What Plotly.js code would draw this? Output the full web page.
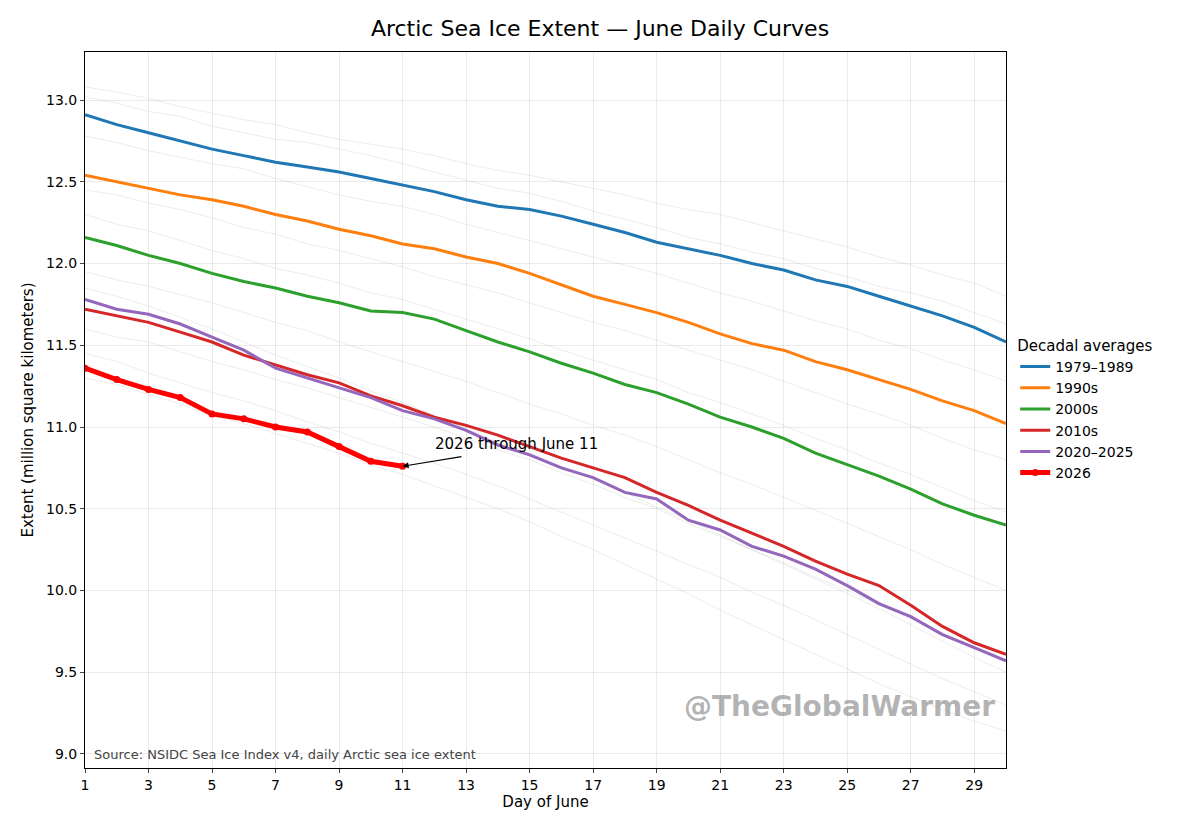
<!DOCTYPE html>
<html><head><meta charset="utf-8">
<script src="https://cdn.plot.ly/plotly-3.0.1.min.js"></script>
<style>body{margin:0;background:#fff}</style>
</head><body>
<div id="chart" style="width:1200px;height:831px"></div>
<script>
'use strict';

const days = Array.from({ length: 30 }, (_, i) => i + 1);

const avg7989 = [12.91, 12.85, 12.80, 12.75, 12.70, 12.66, 12.62, 12.59, 12.56, 12.52, 12.48, 12.44, 12.39, 12.35, 12.33, 12.29, 12.24, 12.19, 12.13, 12.09, 12.05, 12.00, 11.96, 11.90, 11.86, 11.80, 11.74, 11.68, 11.61, 11.52];
const avg1990s = [12.54, 12.50, 12.46, 12.42, 12.39, 12.35, 12.30, 12.26, 12.21, 12.17, 12.12, 12.09, 12.04, 12.00, 11.94, 11.87, 11.80, 11.75, 11.70, 11.64, 11.57, 11.51, 11.47, 11.40, 11.35, 11.29, 11.23, 11.16, 11.10, 11.02];
const avg2000s = [12.16, 12.11, 12.05, 12.00, 11.94, 11.89, 11.85, 11.80, 11.76, 11.71, 11.70, 11.66, 11.59, 11.52, 11.46, 11.39, 11.33, 11.26, 11.21, 11.14, 11.06, 11.00, 10.93, 10.84, 10.77, 10.70, 10.62, 10.53, 10.46, 10.40];
const avg2010s = [11.72, 11.68, 11.64, 11.58, 11.52, 11.44, 11.38, 11.32, 11.27, 11.19, 11.13, 11.06, 11.01, 10.95, 10.88, 10.81, 10.75, 10.69, 10.60, 10.52, 10.43, 10.35, 10.27, 10.18, 10.10, 10.03, 9.91, 9.78, 9.68, 9.61];
const avg2020s = [11.78, 11.72, 11.69, 11.63, 11.55, 11.47, 11.36, 11.30, 11.24, 11.18, 11.10, 11.05, 10.98, 10.89, 10.83, 10.75, 10.69, 10.60, 10.56, 10.43, 10.37, 10.27, 10.21, 10.13, 10.03, 9.92, 9.84, 9.73, 9.65, 9.57];
const y2026 = [11.36, 11.29, 11.23, 11.18, 11.08, 11.05, 11.00, 10.97, 10.88, 10.79, 10.76];

// a sample of individual years drawn faintly behind the averages (approximate)
const yearLines = [
  [13.08, 13.05, 13.01, 12.96, 12.92, 12.88, 12.85, 12.80, 12.76, 12.73, 12.70, 12.66, 12.61, 12.57, 12.54, 12.50, 12.46, 12.42, 12.37, 12.33, 12.30, 12.25, 12.20, 12.15, 12.10, 12.04, 11.99, 11.93, 11.88, 11.80],
  [13.02, 12.98, 12.93, 12.90, 12.84, 12.80, 12.76, 12.74, 12.70, 12.66, 12.61, 12.56, 12.51, 12.46, 12.43, 12.38, 12.32, 12.27, 12.22, 12.16, 12.12, 12.07, 12.03, 11.97, 11.92, 11.86, 11.82, 11.77, 11.70, 11.63],
  [12.78, 12.74, 12.69, 12.65, 12.61, 12.58, 12.52, 12.47, 12.42, 12.38, 12.35, 12.30, 12.24, 12.19, 12.14, 12.09, 12.04, 11.99, 11.94, 11.88, 11.82, 11.77, 11.71, 11.65, 11.60, 11.53, 11.48, 11.41, 11.35, 11.28],
  [12.45, 12.42, 12.37, 12.33, 12.28, 12.22, 12.18, 12.12, 12.08, 12.03, 11.98, 11.92, 11.87, 11.82, 11.76, 11.70, 11.64, 11.59, 11.53, 11.47, 11.41, 11.35, 11.28, 11.21, 11.14, 11.08, 11.01, 10.93, 10.86, 10.80],
  [12.30, 12.24, 12.20, 12.14, 12.08, 12.03, 11.97, 11.93, 11.88, 11.82, 11.78, 11.72, 11.66, 11.60, 11.54, 11.47, 11.41, 11.35, 11.29, 11.21, 11.15, 11.08, 11.01, 10.93, 10.86, 10.78, 10.71, 10.63, 10.55, 10.48],
  [11.95, 11.90, 11.86, 11.81, 11.76, 11.70, 11.64, 11.59, 11.52, 11.46, 11.40, 11.34, 11.28, 11.21, 11.14, 11.08, 11.01, 10.95, 10.88, 10.80, 10.72, 10.65, 10.57, 10.49, 10.41, 10.33, 10.25, 10.16, 10.08, 10.00],
  [11.60, 11.55, 11.52, 11.46, 11.40, 11.35, 11.29, 11.24, 11.18, 11.12, 11.06, 11.00, 10.93, 10.86, 10.80, 10.72, 10.65, 10.57, 10.50, 10.41, 10.33, 10.25, 10.17, 10.08, 10.00, 9.91, 9.83, 9.74, 9.66, 9.58],
  [11.45, 11.40, 11.33, 11.27, 11.21, 11.16, 11.10, 11.03, 10.97, 10.90, 10.84, 10.78, 10.71, 10.64, 10.56, 10.48, 10.40, 10.32, 10.24, 10.16, 10.08, 9.99, 9.91, 9.82, 9.73, 9.64, 9.55, 9.46, 9.38, 9.30],
  [11.85, 11.80, 11.74, 11.67, 11.60, 11.52, 11.44, 11.37, 11.30, 11.22, 11.15, 11.07, 10.99, 10.91, 10.84, 10.76, 10.68, 10.60, 10.51, 10.43, 10.34, 10.25, 10.16, 10.07, 9.98, 9.89, 9.79, 9.69, 9.59, 9.50],
  [11.30, 11.26, 11.20, 11.14, 11.07, 11.02, 10.96, 10.90, 10.84, 10.77, 10.71, 10.64, 10.57, 10.50, 10.42, 10.33, 10.25, 10.16, 10.07, 9.98, 9.88, 9.79, 9.70, 9.61, 9.52, 9.43, 9.35, 9.27, 9.20, 9.14]
];

const averages = [
  { name: '1979–1989', y: avg7989, color: '#1f77b4' },
  { name: '1990s', y: avg1990s, color: '#ff7f0e' },
  { name: '2000s', y: avg2000s, color: '#2ca02c' },
  { name: '2010s', y: avg2010s, color: '#d62728' },
  { name: '2020–2025', y: avg2020s, color: '#9467bd' }
];

let traces = yearLines.map(y => ({
  x: days, y: y, mode: 'lines', showlegend: false, hoverinfo: 'skip',
  line: { color: 'rgba(160,160,160,0.25)', width: 0.8 }
}));
averages.forEach(a => traces.push({
  x: days, y: a.y, mode: 'lines', name: a.name, line: { color: a.color, width: 3 }
}));
traces.push({
  x: days.slice(0, y2026.length), y: y2026, mode: 'lines+markers', name: '2026',
  line: { color: '#ff0000', width: 5 }, marker: { color: '#ff0000', size: 7 }
});

const font = { family: 'DejaVu Sans', color: '#000' };
const layout = {
  width: 1200, height: 831,
  margin: { l: 85, r: 194, t: 52, b: 63 },
  font: Object.assign({ size: 14 }, font),
  paper_bgcolor: '#fff', plot_bgcolor: '#fff',
  title: { text: 'Arctic Sea Ice Extent — June Daily Curves', x: 0.5, xanchor: 'center', y: 0.975, font: { size: 22 } },
  xaxis: {
    range: [1, 30], tickvals: [1, 3, 5, 7, 9, 11, 13, 15, 17, 19, 21, 23, 25, 27, 29],
    showline: true, mirror: true, linecolor: '#000', ticks: 'outside', ticklen: 4,
    gridcolor: 'rgba(0,0,0,0.08)', zeroline: false,
    title: { text: 'Day of June', font: { size: 15 }, standoff: 4 }
  },
  yaxis: {
    range: [8.914, 13.294], dtick: 0.5, tickformat: '.1f',
    showline: true, mirror: true, linecolor: '#000', ticks: 'outside', ticklen: 4,
    gridcolor: 'rgba(0,0,0,0.08)', zeroline: false,
    title: { text: 'Extent (million square kilometers)', font: { size: 15 }, standoff: 8 }
  },
  legend: {
    x: 1.01, xanchor: 'left', y: 0.5, yanchor: 'middle',
    title: { text: 'Decadal averages', font: { size: 15 } }, font: { size: 14 },
    tracegroupgap: 4
  },
  annotations: [
    {
      x: 11, y: y2026[y2026.length - 1], ax: 12.9, ay: 10.82, axref: 'x', ayref: 'y',
      xref: 'x', yref: 'y', text: '', showarrow: true,
      arrowhead: 2, arrowsize: 1, arrowwidth: 1.2, arrowcolor: '#000'
    },
    {
      x: 11.95, y: 10.83, xref: 'x', yref: 'y', text: '2026 through June 11', showarrow: false,
      xanchor: 'left', yanchor: 'bottom', font: { size: 15 }
    },
    {
      x: 0.99, y: 0.06, xref: 'paper', yref: 'paper', xanchor: 'right', yanchor: 'bottom',
      text: '<b>@TheGlobalWarmer</b>', showarrow: false, font: { size: 28, color: 'rgba(128,128,128,0.6)' }
    },
    {
      x: 0.008, y: 0.005, xref: 'paper', yref: 'paper', xanchor: 'left', yanchor: 'bottom',
      text: 'Source: NSIDC Sea Ice Index v4, daily Arctic sea ice extent', showarrow: false,
      font: { size: 13, color: '#444' }
    }
  ]
};

Plotly.newPlot('chart', traces, layout, { displayModeBar: false });
</script>
</body></html>
